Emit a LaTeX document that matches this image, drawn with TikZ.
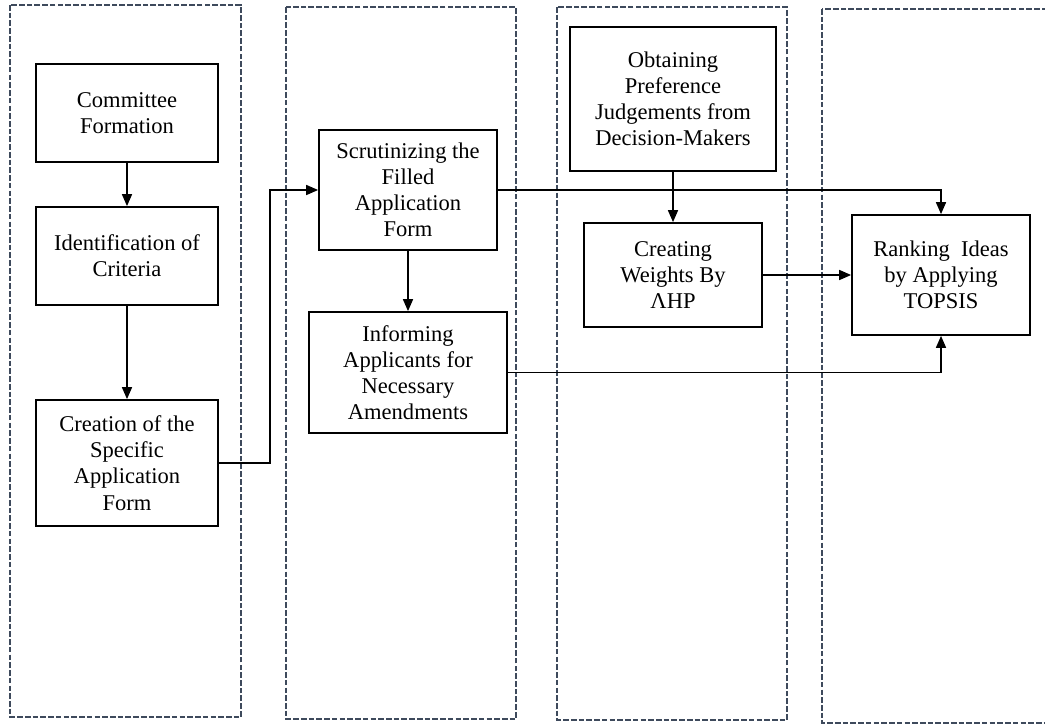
\documentclass[tikz,border=0pt]{standalone}
\usepackage{fontspec}
\setmainfont{Liberation Serif}
\usepackage{xcolor}
\usetikzlibrary{arrows.meta,positioning}
\definecolor{lanegray}{HTML}{3E4A5C}

\begin{document}
\begin{tikzpicture}[
  x=0.75pt, y=-0.75pt,
  font=\fontsize{16.9pt}{19.6pt}\selectfont,
  box/.style={draw, line width=1.3pt, align=center, inner sep=2pt},
  lane/.style={draw=lanegray, line width=1.1pt, dash pattern=on 4.2pt off 1.6pt},
  arr/.style={-{Triangle[length=9pt,width=7.5pt]}, line width=1.2pt},
]
\useasboundingbox (0,0) rectangle (1045,724);
% ---------------- lanes ----------------
\draw[lane] (10,5) rectangle (241,717);
\draw[lane] (286,7) rectangle (516,719);
\draw[lane] (557,7) rectangle (787,720);
\draw[lane] (822,9) rectangle (1052,723);
% ---------------- steps ----------------
\node[box, minimum width=136.5pt, minimum height=73.5pt] (com) at (127,113) {Committee\\Formation};
\node[box, minimum width=136.5pt, minimum height=73.5pt] (ident) at (127,256) {Identification of\\Criteria};
\node[box, minimum width=136.5pt, minimum height=94.5pt] (creat) at (127,463) {Creation of the\\Specific\\Application\\Form};
\node[box, minimum width=133.5pt, minimum height=90pt] (scrut) at (408,190) {Scrutinizing the\\Filled\\Application\\Form};
\node[box, minimum width=148.5pt, minimum height=90.75pt] (inform) at (408,372.5) {Informing\\Applicants for\\Necessary\\Amendments};
\node[box, minimum width=154.5pt, minimum height=108pt] (obtain) at (673,99) {Obtaining\\Preference\\Judgements from\\Decision-Makers};
\node[box, minimum width=133.5pt, minimum height=78pt] (weight) at (673,275) {Creating\\Weights By\\ΛHP};
\node[box, minimum width=133.5pt, minimum height=90pt] (rank) at (941,275) {Ranking\ \ Ideas\\by Applying\\TOPSIS};
% ---------------- flow ----------------
\draw[arr] (com) -- (ident);
\draw[arr] (ident) -- (creat);
\draw[arr] (creat.east) -- ++(51,0) |- (scrut.west);
\draw[arr] (scrut) -- (inform);
\draw[arr] (scrut.east) -| (rank.north);
\draw[arr] (obtain) -- (weight);
\draw[arr] (weight) -- (rank);
\draw[arr] (inform.east) -| (rank.south);
\end{tikzpicture}
\end{document}
